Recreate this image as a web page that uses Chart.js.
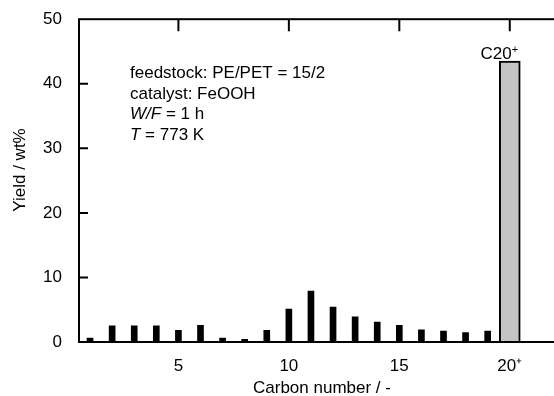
<!DOCTYPE html>
<html>
<head>
<meta charset="utf-8">
<script src="https://cdn.jsdelivr.net/npm/chart.js@4"></script>
<style>
  html, body { margin: 0; padding: 0; background: #fff; overflow: hidden; }
  canvas { display: block; }
</style>
</head>
<body>
<canvas id="yieldChart" width="570" height="396"></canvas>
<script>
// data
const carbonNumbers = [1, 2, 3, 4, 5, 6, 7, 8, 9, 10, 11, 12, 13, 14, 15, 16, 17, 18, 19];
const yields = [0.6, 2.5, 2.5, 2.5, 1.8, 2.6, 0.6, 0.4, 1.8, 5.1, 7.9, 5.4, 3.9, 3.1, 2.6, 1.9, 1.7, 1.45, 1.7];
const heavyCarbon = [20];
const heavyYield = [43.5];
const xTicks = [5, 10, 15, 20];
const xTickLabels = ['5', '10', '15', '20\u207A'];
const yTicks = [0, 10, 20, 30, 40, 50];
const noteLines = [
    [['feedstock: PE/PET = 15/2', false]],
    [['catalyst: FeOOH', false]],
    [['W/F', true], [' = 1 h', false]],
    [['T', true], [' = 773 K', false]]
];

const FONT = '"Liberation Sans", Arial, sans-serif';

// frame + inward ticks, like the original plot
const framePlugin = {
    id: 'frame',
    afterDatasetsDraw(chart) {
        const { ctx, chartArea: a, scales } = chart;
        ctx.save();
        ctx.strokeStyle = '#000';
        ctx.lineWidth = 2;
        ctx.strokeRect(a.left, a.top, a.right - a.left, a.bottom - a.top);
        ctx.beginPath();
        yTicks.slice(1, -1).forEach(v => {
            const y = scales.y.getPixelForValue(v);
            ctx.moveTo(a.left, y); ctx.lineTo(a.left + 9, y);
            ctx.moveTo(a.right, y); ctx.lineTo(a.right - 9, y);
        });
        // only the top ticks show; bottom ones sit under the bars
        xTicks.forEach(v => {
            const x = scales.x.getPixelForValue(v);
            ctx.moveTo(x, a.top); ctx.lineTo(x, a.top + 12);
        });
        ctx.stroke();
        ctx.restore();
    }
};

// text note, y title, C20+ label
const notesPlugin = {
    id: 'notes',
    afterDraw(chart) {
        const ctx = chart.ctx;
        ctx.save();
        ctx.fillStyle = '#000';
        ctx.textBaseline = 'alphabetic';
        noteLines.forEach((parts, i) => {
            let x = 130;
            const y = 78 + i * 20.7;
            parts.forEach(([txt, italic]) => {
                ctx.font = (italic ? 'italic ' : '') + '17px ' + FONT;
                ctx.fillText(txt, x, y);
                x += ctx.measureText(txt).width;
            });
        });
        const bar = chart.getDatasetMeta(1).data[0];
        ctx.font = '17px ' + FONT;
        const w = ctx.measureText('C20').width;
        const x0 = bar.x + 2 - w;
        ctx.fillText('C20', x0, bar.y - 2);
        ctx.font = '11px ' + FONT;
        ctx.fillText('+', x0 + w, bar.y - 8);

        // y axis title
        ctx.font = '17px ' + FONT;
        ctx.translate(20, 170);
        ctx.rotate(-Math.PI / 2);
        ctx.textAlign = 'center';
        ctx.textBaseline = 'middle';
        ctx.fillText('Yield / wt%', 0, 0);
        ctx.restore();
    }
};

const ctx = document.getElementById('yieldChart').getContext('2d');

const yieldChart = new Chart(ctx, {
    type: 'bar',
    data: {
        datasets: [{
            label: 'C1-C19',
            data: carbonNumbers.map((c, i) => ({ x: c, y: yields[i] })),
            backgroundColor: '#000',
            barThickness: 6,
            grouped: false
        }, {
            label: 'C20+',
            data: heavyCarbon.map((c, i) => ({ x: c, y: heavyYield[i] })),
            backgroundColor: '#c4c4c4',
            borderColor: '#000',
            borderWidth: 2,
            barThickness: 21,
            grouped: false
        }]
    },
    options: {
        responsive: false,
        animation: false,
        layout: { padding: { top: 19, right: 5, left: 0, bottom: 0 } },
        plugins: {
            legend: { display: false },
            tooltip: { enabled: false }
        },
        scales: {
            x: {
                type: 'linear',
                offset: false,
                min: 0.5,
                max: 22.5,
                grid: { display: false },
                border: { display: false },
                afterBuildTicks: s => { s.ticks = xTicks.map(v => ({ value: v })); },
                afterFit: s => { s.height = 54; },
                ticks: {
                    color: '#000',
                    padding: 6,
                    maxRotation: 0,
                    font: { family: FONT, size: 17 },
                    callback: v => xTickLabels[xTicks.indexOf(v)]
                },
                title: {
                    display: true,
                    text: 'Carbon number / -',
                    color: '#000',
                    padding: { top: 0, bottom: -3 },
                    font: { family: FONT, size: 17 }
                }
            },
            y: {
                min: 0,
                max: 50,
                grid: { display: false },
                border: { display: false },
                afterBuildTicks: s => { s.ticks = yTicks.map(v => ({ value: v })); },
                afterFit: s => { s.width = 79; },
                ticks: {
                    color: '#000',
                    padding: 9,
                    font: { family: FONT, size: 17 }
                }
            }
        }
    },
    plugins: [framePlugin, notesPlugin]
});
</script>
</body>
</html>
